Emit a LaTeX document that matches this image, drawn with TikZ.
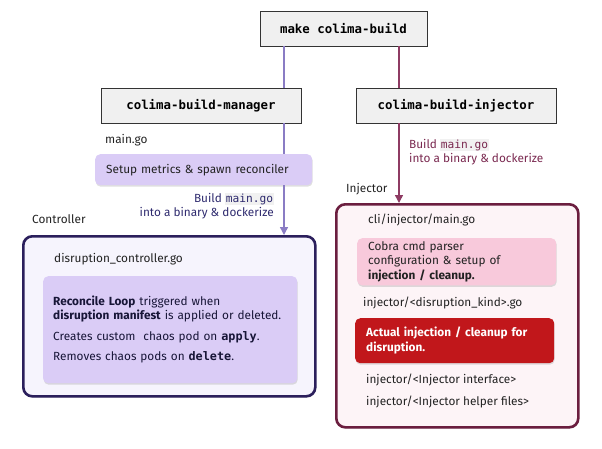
\documentclass[tikz,border=0pt]{standalone}
\usepackage{fontspec}
\setmainfont{Fira Sans}
\setmonofont{DejaVu Sans Mono}
\usetikzlibrary{positioning, arrows.meta, shadows}
\definecolor{cmdfill}{HTML}{F0F0F0}
\definecolor{cmdline}{HTML}{333333}
\definecolor{mgrline}{HTML}{8A7CC4}
\definecolor{mgrtext}{HTML}{2E2A6E}
\definecolor{injline}{HTML}{8E3B63}
\definecolor{injtext}{HTML}{7A2950}
\definecolor{ctrldraw}{HTML}{2B1F5C}
\definecolor{ctrlfill}{HTML}{F6F4FD}
\definecolor{lilac}{HTML}{DACCF6}
\definecolor{injdraw}{HTML}{6B1E3F}
\definecolor{injfill}{HTML}{FDF4F7}
\definecolor{pinkbox}{HTML}{F8C9DB}
\definecolor{redbox}{HTML}{C1171B}
\definecolor{codebg}{HTML}{F1F1F1}
\definecolor{ink}{HTML}{222222}
\newcommand{\gocode}[1]{{\setlength{\fboxsep}{0.8pt}\colorbox{codebg}{\ttfamily\fontsize{11.2}{13}\selectfont #1}}}

\begin{document}
\begin{tikzpicture}
[x=1pt, y=-1pt,
 cmd/.style={rectangle, draw=cmdline, fill=cmdfill, thick, minimum height=35pt,
   font=\ttfamily\bfseries\fontsize{12.4}{14}\selectfont,
   drop shadow={shadow xshift=0.6pt, shadow yshift=-1.2pt, opacity=0.3}},
 lbl/.style={inner sep=0pt, text=ink, font=\fontsize{11.8}{14}\selectfont},
 card/.style={rectangle, rounded corners=5pt, anchor=north west, inner xsep=11pt,
   align=left, font=\fontsize{11.8}{14.5}\selectfont,
   drop shadow={shadow xshift=0.5pt, shadow yshift=-1.5pt, opacity=0.25}},
 group/.style={rectangle, rounded corners=9pt, line width=2.6pt, anchor=north west,
   drop shadow={shadow xshift=0.5pt, shadow yshift=-1.5pt, opacity=0.2}},
 build/.style={inner sep=0pt, font=\fontsize{11.8}{14}\selectfont},
 ->/.style={line width=1.4pt, arrows={-Triangle[width=8pt, length=8pt]}}]

\useasboundingbox (0,0) rectangle (602,448);

% the three make targets
\node[cmd, minimum width=167pt] (make) at (343.5,28.5) {make colima-build};
\node[cmd, minimum width=200pt] (mgr) at (201,105.5) {colima-build-manager};
\node[cmd, minimum width=200pt] (inj) at (456,105.5) {colima-build-injector};

% manager side
\node[lbl, anchor=base west] (maingo) at (105,143) {main.go};
\node[card, fill=lilac, text=ink, minimum width=217pt, minimum height=31pt,
  text width=195pt] (setup) at (95,154) {Setup metrics \& spawn reconciler};
\node[build, text=mgrtext, align=right, anchor=base east] (mgrbuild) at (274,216)
  {Build \gocode{main.go}\\into a binary \& dockerize};
\node[lbl, anchor=base west] (ctrllbl) at (32,223) {Controller};
\node[group, draw=ctrldraw, fill=ctrlfill, minimum width=292pt,
  minimum height=160pt] (ctrl) at (22,235) {};
\node[lbl, anchor=base west] (ctrlgo) at (54,262) {disruption\_controller.go};
\node[card, fill=lilac, text=mgrtext!50!black, minimum width=254pt, minimum height=107pt,
  text width=234pt, inner xsep=10pt] (loop) at (43,276)
  {\textbf{Reconcile Loop} triggered when\\
   \textbf{disruption manifest} is applied or deleted.\\[6pt]
   Creates custom\ \ chaos pod on \texttt{\textbf{apply}}.\\[6pt]
   Removes chaos pods on \texttt{\textbf{delete}}.};

% injector side
\node[build, text=injtext, align=left, anchor=base west] (injbuild) at (409,162)
  {Build \gocode{main.go}\\into a binary \& dockerize};
\node[lbl, anchor=base west] (injlbl) at (346,192) {Injector};
\node[group, draw=injdraw, fill=injfill, minimum width=242pt,
  minimum height=223pt] (injgrp) at (335,203) {};
\node[lbl, anchor=base west] (cligo) at (368,223) {cli/injector/main.go};
\node[card, fill=pinkbox, text=ink, minimum width=199pt, minimum height=47pt,
  text width=177pt] (cobra) at (357,238)
  {Cobra cmd parser\\configuration \& setup of\\\textbf{injection / cleanup.}};
\node[lbl, anchor=base west] (kindgo) at (363,306) {injector/<disruption\_kind>.go};
\node[card, fill=redbox, text=white, minimum width=199pt, minimum height=45pt,
  text width=177pt, font=\bfseries\fontsize{11.8}{14.5}\selectfont] (actual) at (355,318)
  {Actual injection / cleanup for\\disruption.};
\node[lbl, anchor=base west] (iface) at (366,383) {injector/<Injector interface>};
\node[lbl, anchor=base west] (helper) at (366,405) {injector/<Injector helper files>};

% connectors
\coordinate (mx) at (284,0);
\coordinate (ix) at (399,0);
\draw [mgrline, line width=1.4pt] (make.south -| mx) -- (mgr.north -| mx);
\draw [mgrline, line width=1.4pt] (mgr.south -| mx) -- (setup.north -| mx);
\draw [->, mgrline] (setup.south -| mx) -- (ctrl.north -| mx);
\draw [injline, line width=1.4pt] (make.south -| ix) -- (inj.north -| ix);
\draw [->, injline] (inj.south -| ix) -- (injgrp.north -| ix);

\end{tikzpicture}
\end{document}
